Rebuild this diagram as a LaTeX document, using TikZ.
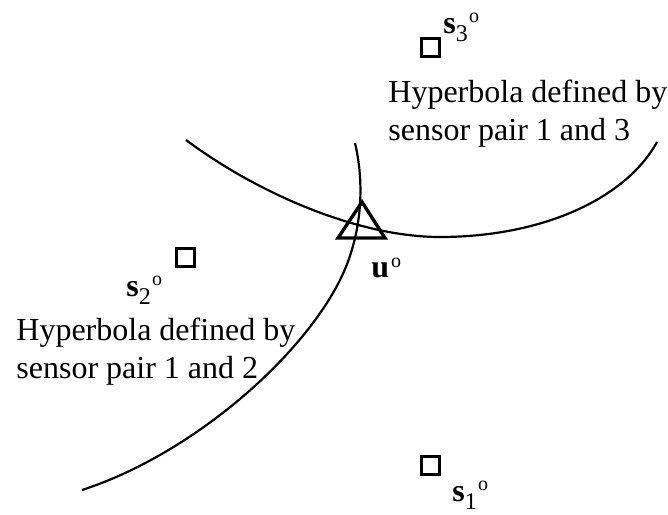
\documentclass[tikz,border=0pt]{standalone}
\usepackage{fontspec}
\setmainfont{Liberation Serif}

\newcommand{\supo}{\hspace{0.6pt}\raisebox{5.5pt}{\fontsize{10}{10}\selectfont o}}
\newcommand{\sens}[1]{\textbf{s}\raisebox{-4pt}{\fontsize{12}{12}\selectfont #1}\supo}

\begin{document}
\begin{tikzpicture}[
    x=0.5pt, y=-0.5pt,
    every node/.style={font=\fontsize{16}{18.75}\selectfont, inner sep=0pt},
    sensor/.style={rectangle, draw, line width=1.5pt, minimum size=9pt},
    lbl/.style={anchor=base west},
    curve/.style={line width=1.1pt},
    marker/.style={line width=1.7pt, line join=miter}
]
\useasboundingbox (0,0) rectangle (668,514);

% --- sensors ---
\node (s1) [sensor] at (430.5,465.5) {};
\node (s2) [sensor] at (185.5,257) {};
\node (s3) [sensor] at (430.5,47.5) {};

\node (s1lbl) [lbl] at (452,501) {\sens{1}};
\node (s2lbl) [lbl] at (126,296) {\sens{2}};
\node (s3lbl) [lbl] at (443,33) {\sens{3}};

% --- hyperbolas ---
\draw [curve] (82,490) .. controls (190,455) and (300,360) .. (340,280)
                       .. controls (360,240) and (366,190) .. (355,143);
\draw [curve] (186,140) .. controls (260,195) and (360,237) .. (440,237)
                        .. controls (540,237) and (625,200) .. (657,142);

\node (hyp13) [lbl, align=left] at (388,140) {Hyperbola defined by\\sensor pair 1 and 3};
\node (hyp12) [lbl, align=left] at (16,378) {Hyperbola defined by\\sensor pair 1 and 2};

% --- source ---
\coordinate (u) at (362,226);
\draw [marker] (362,202) -- (385,238) -- (338,238) -- cycle;
\node (ulbl) [lbl] at (371,277) {\textbf{u}\hspace{1pt}\raisebox{5pt}{\fontsize{10}{10}\selectfont o}};

\end{tikzpicture}
\end{document}
